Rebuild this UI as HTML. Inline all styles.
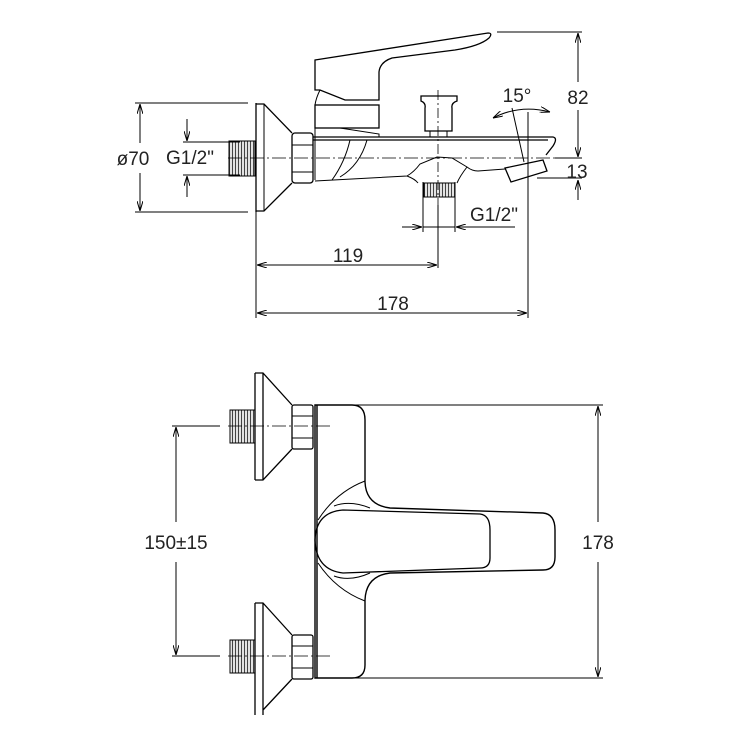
<!DOCTYPE html>
<html><head><style>
html,body{margin:0;padding:0;background:#fff;}
svg{display:block;}
text{font-family:"Liberation Sans",sans-serif;fill:#222;font-size:19px;}
</style></head><body>
<svg width="750" height="750" viewBox="0 0 750 750" xmlns="http://www.w3.org/2000/svg">
<defs>
<marker id="a" viewBox="0 0 10 6" refX="10" refY="3" markerWidth="10" markerHeight="6" orient="auto-start-reverse" markerUnits="userSpaceOnUse"><path d="M0,0 L10,3 L0,6" fill="none" stroke="#000" stroke-width="1"/></marker>
<pattern id="th" width="3" height="10" patternUnits="userSpaceOnUse"><rect width="3" height="10" fill="#fff"/><line x1="1.5" y1="0" x2="1.5" y2="10" stroke="#444" stroke-width="1.3"/></pattern>
</defs>
<g fill="none" stroke="#000" stroke-width="1">
<!-- ===== TOP VIEW ===== -->
<rect x="229" y="141" width="26" height="35" fill="url(#th)" stroke="#000"/>
<path d="M256,103 L256,212 M256,104 L264,104 L292,133 M292,183 L264,211 L256,211" stroke-width="1.3"/>
<line x1="264" y1="104" x2="264" y2="211"/>
<rect x="292" y="133" width="21" height="50" rx="3" stroke-width="1.3"/>
<line x1="292" y1="145" x2="313" y2="145"/><line x1="292" y1="172" x2="313" y2="172"/>
<path d="M315,60 L488,33 Q493,33 489,38 Q480,46 455,50 L392,58 Q380,62 379,72 L379,100 L345,100 L320,90 L315,90 Z" stroke-width="1.3"/>
<path d="M320,90 Q316,98 315,105"/>
<rect x="315" y="105" width="64" height="23" stroke-width="1.3"/>
<path d="M315,128 L315,180 M315,128 L340,128 L379,134 L379,137"/>
<path d="M313,137 L553,137 Q558,138 553,146 L546,155 M313,140 L548,140" stroke-width="1.3"/>
<path d="M315,181 L407,176 Q414,172 420,164 L437,157 L452,158 L467,167 Q472,171 478,171 L505,169"/>
<path d="M407,176 Q415,179 418,183 M467,167 Q460,176 457,183"/>
<path d="M367,140 Q360,165 340,177 M350,140 Q345,162 332,180"/>
<path d="M505,168 L543,160 L547,171 L511,182 Z" stroke-width="1.3"/>
<rect x="424" y="183" width="31" height="14" fill="url(#th)"/>
<path d="M421,96 L457,96 L457,101 Q451,103 452,108 L452,131 L425,131 L425,108 Q426,103 421,101 Z" stroke-width="1.3"/>
<rect x="430" y="131" width="17" height="6"/>
<line x1="228" y1="158" x2="580" y2="158" stroke-dasharray="14,3,2,3" stroke-width="0.8"/>
<line x1="438" y1="90" x2="438" y2="205" stroke-dasharray="10,3,2,3" stroke-width="0.8"/>
<line x1="135" y1="103" x2="248" y2="103"/><line x1="135" y1="212" x2="248" y2="212"/>
<line x1="140" y1="104" x2="140" y2="143" marker-start="url(#a)"/><line x1="140" y1="173" x2="140" y2="211" marker-end="url(#a)"/>
<line x1="183" y1="142" x2="240" y2="142"/><line x1="183" y1="175" x2="240" y2="175"/>
<line x1="187" y1="119" x2="187" y2="141" marker-end="url(#a)"/><line x1="187" y1="176" x2="187" y2="197" marker-start="url(#a)"/>
<line x1="497" y1="32" x2="582" y2="32"/><line x1="555" y1="158" x2="582" y2="158"/>
<line x1="578" y1="33" x2="578" y2="82" marker-start="url(#a)"/><line x1="578" y1="110" x2="578" y2="157" marker-end="url(#a)"/>
<line x1="537" y1="178" x2="582" y2="178"/>
<line x1="578" y1="180" x2="578" y2="200" marker-start="url(#a)"/>
<path d="M493,118 Q520,104 550,112" marker-start="url(#a)" marker-end="url(#a)"/>
<line x1="512" y1="108" x2="524" y2="162"/>
<line x1="528" y1="112" x2="528" y2="318"/>
<line x1="423" y1="182" x2="423" y2="232"/><line x1="455" y1="182" x2="455" y2="232"/>
<line x1="402" y1="227" x2="422" y2="227" marker-end="url(#a)"/><line x1="515" y1="227" x2="456" y2="227" marker-end="url(#a)"/>
<line x1="423" y1="227" x2="455" y2="227"/>
<line x1="256" y1="212" x2="256" y2="318"/>
<line x1="438" y1="205" x2="438" y2="268"/>
<line x1="257" y1="265" x2="437" y2="265" marker-start="url(#a)" marker-end="url(#a)"/>
<line x1="257" y1="313" x2="527" y2="313" marker-start="url(#a)" marker-end="url(#a)"/>

<!-- ===== BOTTOM VIEW ===== -->
<g>
<rect x="230" y="410" width="25" height="33" fill="url(#th)"/>
<path d="M255,373 L255,480 M263,373 L263,480 M255,373 L263,373 L292,405 M292,449 L263,480 L255,480" stroke-width="1.3"/>
<rect x="292" y="405" width="21" height="44" rx="2" stroke-width="1.3"/>
<line x1="292" y1="416" x2="313" y2="416"/><line x1="292" y1="438" x2="313" y2="438"/>
</g>
<g transform="translate(0,230)">
<rect x="230" y="410" width="25" height="33" fill="url(#th)"/>
<path d="M255,373 L255,485 M263,373 L263,485 M255,373 L263,373 L292,405 M292,449 L263,480" stroke-width="1.3"/>
<rect x="292" y="405" width="21" height="44" rx="2" stroke-width="1.3"/>
<line x1="292" y1="416" x2="313" y2="416"/><line x1="292" y1="438" x2="313" y2="438"/>
</g>
<line x1="228" y1="426" x2="333" y2="426" stroke-dasharray="14,3,2,3" stroke-width="0.8"/>
<line x1="228" y1="656" x2="333" y2="656" stroke-dasharray="14,3,2,3" stroke-width="0.8"/>
<path d="M315,405 L352,405 Q365,405 365,420 L365,482 Q366,505 390,508 L543,513 Q555,514 555,530 L555,557 Q555,570 543,570 L390,573 Q366,576 365,600 L365,665 Q365,678 352,678 L315,678 Z" stroke-width="1.4"/>
<line x1="317" y1="405" x2="317" y2="678" stroke-width="1.4"/>
<path d="M343,510 L480,514 Q490,515 490,530 L490,558 Q490,568 480,568 L343,573 Q316,570 315,540 Q316,512 343,510 Z" stroke-width="1.3"/>
<path d="M365,481 Q336,492 318,520 M365,601 Q336,590 318,563 M334,506 Q350,500 370,508 M334,576 Q350,582 370,573"/>
<line x1="355" y1="405" x2="603" y2="405"/><line x1="355" y1="678" x2="603" y2="678"/>
<line x1="598" y1="406" x2="598" y2="522" marker-start="url(#a)"/><line x1="598" y1="562" x2="598" y2="677" marker-end="url(#a)"/>
<line x1="172" y1="426" x2="220" y2="426"/><line x1="172" y1="656" x2="220" y2="656"/>
<line x1="176" y1="427" x2="176" y2="522" marker-start="url(#a)"/><line x1="176" y1="562" x2="176" y2="655" marker-end="url(#a)"/>
</g>
<text x="133" y="165" text-anchor="middle">ø70</text>
<text x="190" y="164" text-anchor="middle" font-size="16">G1/2"</text>
<text x="578" y="104" text-anchor="middle">82</text>
<text x="577" y="178" text-anchor="middle">13</text>
<text x="517" y="102" text-anchor="middle" font-size="16">15°</text>
<text x="494" y="221" text-anchor="middle" font-size="16">G1/2"</text>
<text x="348" y="262" text-anchor="middle">119</text>
<text x="393" y="310" text-anchor="middle">178</text>
<text x="176" y="549" text-anchor="middle">150±15</text>
<text x="598" y="549" text-anchor="middle">178</text>
</svg>
</body></html>
